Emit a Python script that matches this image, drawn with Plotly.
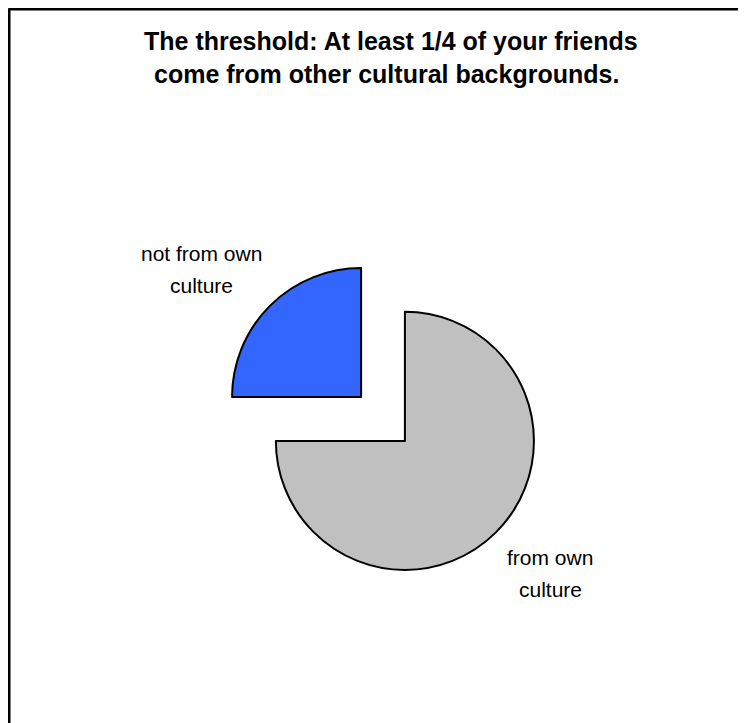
import plotly.graph_objects as go

W, H = 746, 723

# data
labels = ["not from own culture", "from own culture"]
values = [25, 75]
colors = ["#3366FF", "#C0C0C0"]
label_lines = [["not from own", "culture"], ["from own", "culture"]]
title_lines = ["The threshold: At least 1/4 of your friends",
               "come from other cultural backgrounds."]

FONT = "Liberation Sans, Arial, sans-serif"

def px(x):
    return x / W

def py(y):
    return 1 - y / H

# pie placement (pixels, figure coords)
cx, cy, half = 375, 411, 160

fig = go.Figure(go.Pie(
    labels=labels,
    values=values,
    sort=False,
    direction="clockwise",
    rotation=270,
    pull=[0.24, 0.24],
    marker=dict(colors=colors, line=dict(color="black", width=2)),
    textinfo="none",
    hoverinfo="label+percent",
    domain=dict(x=[px(cx - half), px(cx + half)],
                y=[py(cy + half), py(cy - half)]),
    showlegend=False,
))

# slice labels (line by line, Excel-like line spacing)
label_pos = [(193, 245.5), (542, 549.5)]
line_gap = 32
for lines, (lx, ly) in zip(label_lines, label_pos):
    for i, line in enumerate(lines):
        fig.add_annotation(x=px(lx), y=py(ly + i * line_gap), xref="paper", yref="paper",
                           text=line, showarrow=False,
                           font=dict(family=FONT, size=21, color="black"),
                           xanchor="center", yanchor="middle")

# title
title_pos = [(383, 33), (378, 66)]
for line, (tx, ty) in zip(title_lines, title_pos):
    fig.add_annotation(x=px(tx), y=py(ty), xref="paper", yref="paper",
                       text="<b>" + line + "</b>", showarrow=False,
                       font=dict(family=FONT, size=25, color="black"),
                       xanchor="center", yanchor="middle")

# chart border (left and top visible)
fig.add_shape(type="line", xref="paper", yref="paper",
              x0=px(0.5), y0=py(0.5), x1=1.05, y1=py(0.5),
              line=dict(color="black", width=4))
fig.add_shape(type="line", xref="paper", yref="paper",
              x0=px(0.5), y0=py(0.5), x1=px(0.5), y1=-0.05,
              line=dict(color="black", width=4))

fig.update_layout(width=W, height=H, margin=dict(l=0, r=0, t=0, b=0),
                  paper_bgcolor="white", plot_bgcolor="white")

fig.write_html("out.html")
